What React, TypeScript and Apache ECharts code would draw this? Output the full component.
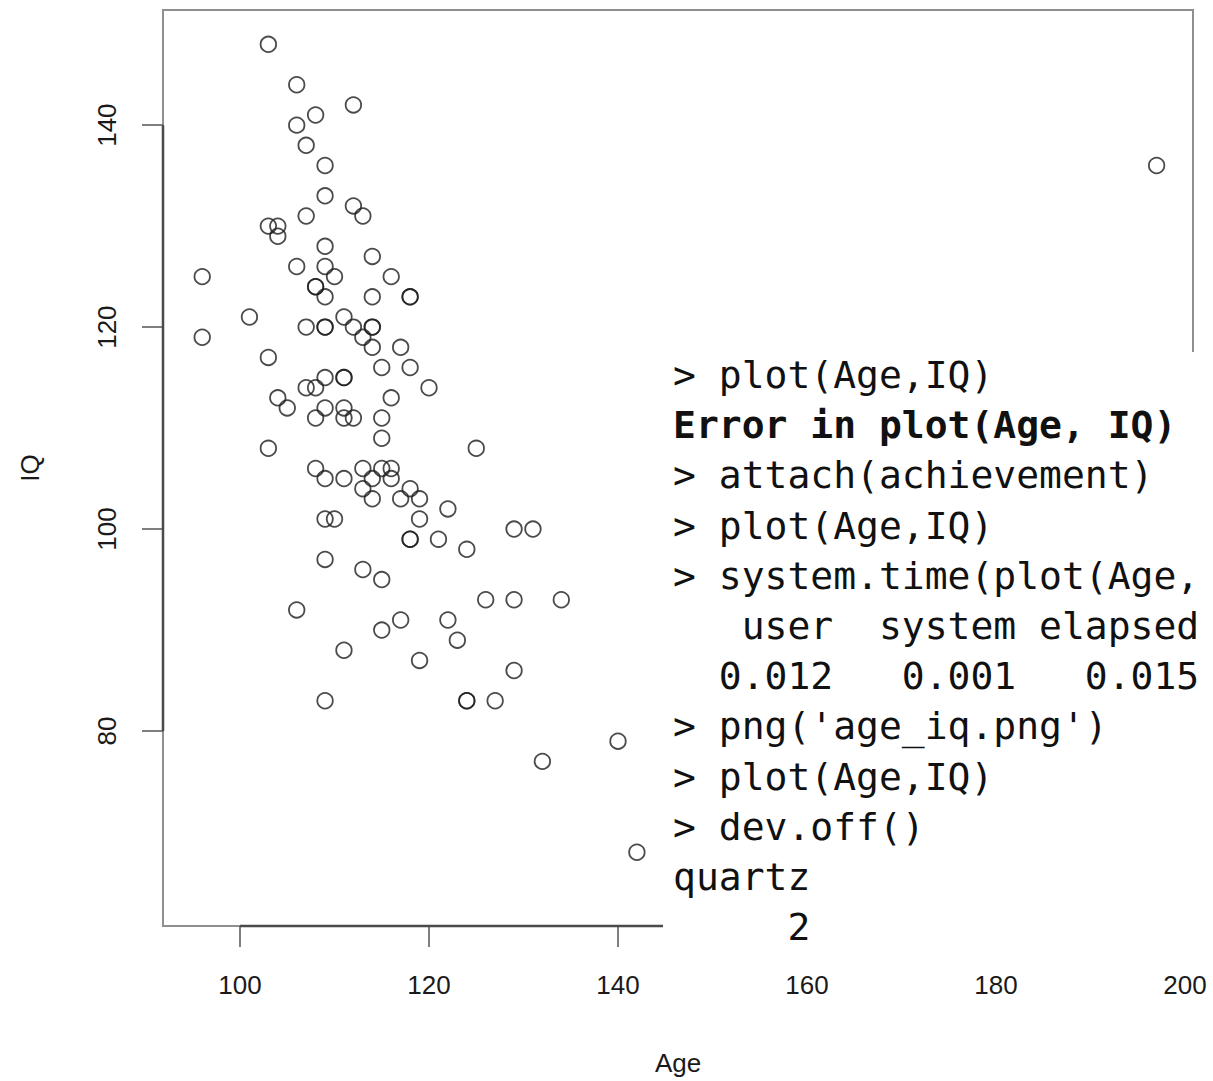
import React, { useEffect, useRef } from "react";
import * as echarts from "echarts";

// Scatter data: Age (x) vs IQ (y), duplicates reproduce the darker overplotted circles
const ages = [
  103, 106, 112, 108, 106, 107, 109, 109, 112, 113, 107, 103, 104, 104, 109, 114, 106, 109, 110, 116,
  96, 108, 108, 109, 114, 118, 118, 101, 111, 107, 109, 109, 112, 114, 114, 96, 113, 114, 117, 103,
  115, 118, 109, 111, 111, 107, 108, 120, 104, 116, 105, 109, 111, 108, 111, 112, 115, 115, 103, 125,
  108, 113, 115, 116, 109, 111, 114, 116, 113, 118, 114, 117, 119, 122, 109, 110, 119, 129, 131, 118,
  118, 121, 124, 109, 113, 115, 126, 129, 134, 106, 117, 122, 115, 123, 111, 119, 129, 109, 124, 124,
  127, 140, 132, 142, 197,
];
const iqs = [
  148, 144, 142, 141, 140, 138, 136, 133, 132, 131, 131, 130, 130, 129, 128, 127, 126, 126, 125, 125,
  125, 124, 124, 123, 123, 123, 123, 121, 121, 120, 120, 120, 120, 120, 120, 119, 119, 118, 118, 117,
  116, 116, 115, 115, 115, 114, 114, 114, 113, 113, 112, 112, 112, 111, 111, 111, 111, 109, 108, 108,
  106, 106, 106, 106, 105, 105, 105, 105, 104, 104, 103, 103, 103, 102, 101, 101, 101, 100, 100, 99,
  99, 99, 98, 97, 96, 95, 93, 93, 93, 92, 91, 91, 90, 89, 88, 87, 86, 83, 83, 83,
  83, 79, 77, 68, 136,
];

const xTicks = [100, 120, 140, 160, 180, 200];
const yTicks = [80, 100, 120, 140];
const xRange = [91.85, 200.85];
const yRange = [60.7, 151.4];
const xName = "Age";
const yName = "IQ";

// Console window pasted over the lower-right part of the plot
const terminalLines = [
  "> plot(Age,IQ)",
  "Error in plot(Age, IQ)",
  "> attach(achievement)",
  "> plot(Age,IQ)",
  "> system.time(plot(Age,",
  "   user  system elapsed",
  "  0.012   0.001   0.015",
  "> png('age_iq.png')",
  "> plot(Age,IQ)",
  "> dev.off()",
  "quartz",
  "     2",
];
const boldLines = [1];

export default function App() {
  const ref = useRef<HTMLDivElement>(null);

  useEffect(() => {
    if (!ref.current) return;
    const chart = echarts.init(ref.current, undefined, { renderer: "svg" });

    const termLeft = 663;
    const termTop = 352;
    const termBottom = 948;
    const textX0 = 673;
    const fontPx = 38;
    const charW = fontPx * 0.602;
    const lineY0 = 375;
    const lineH = 50.2;
    const monoFont = "DejaVu Sans Mono";

    const textEls: any[] = [];
    terminalLines.forEach((line, i) => {
      const re = /\S+(?: \S+)*/g;
      let m: RegExpExecArray | null;
      while ((m = re.exec(line)) !== null) {
        textEls.push({
          type: "text",
          z: 101,
          x: textX0 + m.index * charW,
          y: lineY0 + i * lineH,
          style: {
            text: m[0],
            fontFamily: monoFont,
            fontSize: fontPx,
            fontWeight: boldLines.includes(i) ? "bold" : "normal",
            fill: "#111",
            verticalAlign: "middle",
            align: "left",
          },
        });
      }
    });

    const labelFont = "Liberation Sans, Arial, sans-serif";

    chart.setOption({
      animation: false,
      backgroundColor: "#fff",
      grid: {
        left: 163,
        top: 10,
        right: 20,
        bottom: 155,
        show: true,
        borderColor: "#8f8f8f",
        borderWidth: 2,
        containLabel: false,
      },
      xAxis: {
        type: "value",
        min: xRange[0],
        max: xRange[1],
        name: xName,
        nameLocation: "middle",
        nameGap: 124,
        nameTextStyle: { fontFamily: labelFont, fontSize: 26, color: "#1a1a1a" },
        axisLine: { show: false },
        splitLine: { show: false },
        axisTick: {
          show: true,
          customValues: xTicks,
          length: 21,
          lineStyle: { color: "#555", width: 1.5 },
        },
        axisLabel: {
          show: true,
          customValues: xTicks,
          margin: 46,
          fontFamily: labelFont,
          fontSize: 26,
          color: "#1a1a1a",
        },
      },
      yAxis: {
        type: "value",
        min: yRange[0],
        max: yRange[1],
        name: yName,
        nameLocation: "middle",
        nameGap: 120,
        nameRotate: 90,
        nameTextStyle: { fontFamily: labelFont, fontSize: 26, color: "#1a1a1a" },
        axisLine: { show: false },
        splitLine: { show: false },
        axisTick: {
          show: true,
          customValues: yTicks,
          length: 21,
          lineStyle: { color: "#555", width: 1.5 },
        },
        axisLabel: {
          show: true,
          customValues: yTicks,
          rotate: 90,
          margin: 43,
          fontFamily: labelFont,
          fontSize: 26,
          color: "#1a1a1a",
        },
      },
      series: [
        {
          type: "line",
          data: [
            [xTicks[0], yRange[0]],
            [xTicks[xTicks.length - 1], yRange[0]],
          ],
          symbol: "none",
          clip: false,
          silent: true,
          lineStyle: { color: "#4a4a4a", width: 2.5 },
          z: 3,
        },
        {
          type: "line",
          data: [
            [xRange[0], yTicks[0]],
            [xRange[0], yTicks[yTicks.length - 1]],
          ],
          symbol: "none",
          clip: false,
          silent: true,
          lineStyle: { color: "#4a4a4a", width: 2.5 },
          z: 3,
        },
        {
          type: "scatter",
          data: ages.map((a, i) => [a, iqs[i]]),
          symbol: "circle",
          symbolSize: 15.5,
          clip: false,
          itemStyle: {
            color: "rgba(0,0,0,0)",
            borderColor: "#1e1e1e",
            borderWidth: 1.8,
          },
          z: 4,
        },
      ],
      graphic: [
        {
          type: "rect",
          z: 100,
          shape: { x: termLeft, y: termTop, width: 1213 - termLeft, height: termBottom - termTop },
          style: { fill: "#fff" },
        },
        ...textEls,
      ],
    });

    return () => chart.dispose();
  }, []);

  return (
    <div
      ref={ref}
      style={{ position: "fixed", left: 0, top: 0, width: 1213, height: 1081, background: "#fff" }}
    />
  );
}
